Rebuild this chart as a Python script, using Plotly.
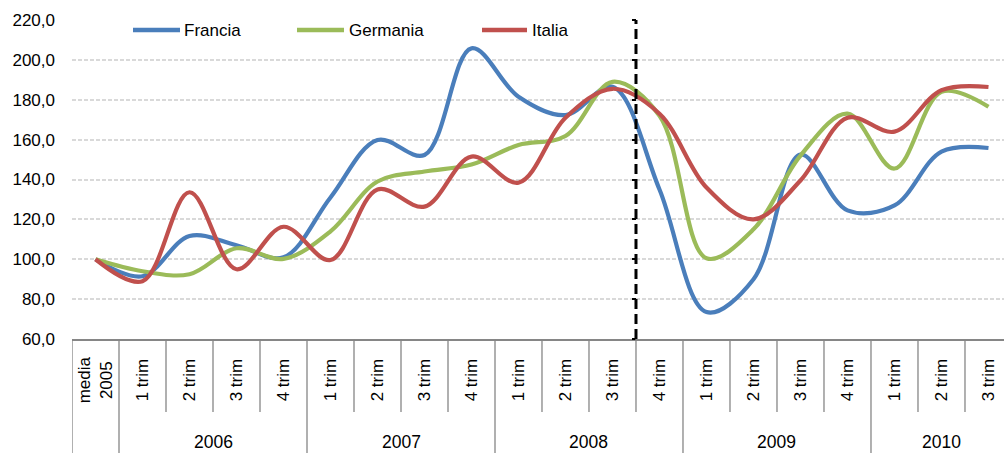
import plotly.graph_objects as go

# ---------------- data ----------------
categories = ["media<br>2005",
              "1 trim", "2 trim", "3 trim", "4 trim",
              "1 trim", "2 trim", "3 trim", "4 trim",
              "1 trim", "2 trim", "3 trim", "4 trim",
              "1 trim", "2 trim", "3 trim", "4 trim",
              "1 trim", "2 trim", "3 trim"]
years = ["2006", "2007", "2008", "2009", "2010"]
year_start = [1, 5, 9, 13, 17]
year_len = [4, 4, 4, 4, 3]

francia = [100.0, 91.5, 111.7, 107.0, 101.0, 131.0, 159.8, 152.3, 205.8, 181.5,
           172.3, 186.5, 135.0, 73.5, 90.0, 152.5, 124.5, 127.0, 154.0, 155.8]
germania = [100.0, 94.0, 92.5, 105.5, 100.2, 114.0, 139.0, 144.0, 147.5, 157.3,
            161.8, 189.0, 172.0, 100.5, 115.0, 152.0, 173.0, 145.5, 184.0, 176.5]
italia = [100.0, 89.0, 133.6, 95.0, 116.3, 99.6, 135.0, 126.4, 151.5, 138.4,
          171.0, 185.5, 173.0, 136.0, 120.0, 139.5, 171.0, 164.0, 184.8, 186.4]

series = [("Francia", francia, "#4A7EBB"),
          ("Germania", germania, "#9BBB59"),
          ("Italia", italia, "#C0504D")]

crisis_boundary = 11.5  # between 3 trim 2008 and 4 trim 2008

# ---------------- figure ----------------
FONT = "Liberation Sans, Arial, sans-serif"
x_idx = list(range(len(categories)))
x_min, x_max = -0.5, 19.33

fig = go.Figure()
for name, vals, col in series:
    fig.add_trace(go.Scatter(
        x=x_idx, y=vals, name=name, mode="lines",
        line=dict(color=col, width=4.2, shape="spline", smoothing=1.0),
        showlegend=False, hoverinfo="x+y+name"))

# invisible trace for the secondary axis (ticks on the dashed line)
fig.add_trace(go.Scatter(x=[0], y=[100], yaxis="y2", mode="markers",
                         marker=dict(opacity=0), showlegend=False, hoverinfo="skip"))

shapes = []
annotations = []

# dashed vertical line
shapes.append(dict(type="line", xref="x", yref="paper", x0=crisis_boundary, x1=crisis_boundary,
                   y0=0, y1=1, line=dict(color="black", width=3, dash="10px,5px"), layer="above"))

# category separators below the axis
sep_col = "#868686"
year_bounds = [-0.5, 0.5] + [s + l - 0.5 for s, l in zip(year_start, year_len)]
for i in range(len(categories) + 1):
    xb = i - 0.5
    full = xb in year_bounds
    shapes.append(dict(type="line", xref="x", yref="paper", x0=xb, x1=xb,
                       y0=0, y1=(-0.42 if full else -0.229),
                       line=dict(color=sep_col, width=1.3)))

# quarter labels (rotated)
for i, lab in enumerate(categories):
    annotations.append(dict(x=i, y=-0.128, xref="x", yref="paper", text=lab,
                            textangle=-90, showarrow=False, xanchor="center", yanchor="middle",
                            font=dict(family=FONT, size=17, color="black")))
# year labels
for yr, s, l in zip(years, year_start, year_len):
    annotations.append(dict(x=s + (l - 1) / 2, y=-0.322, xref="x", yref="paper", text=yr,
                            showarrow=False, xanchor="center", yanchor="middle",
                            font=dict(family=FONT, size=17.5, color="black")))

# manual legend
plot_w = 932.0
def px(v):
    return (v - 72.0) / plot_w
legend_y = (339 - 30) / 319.0
leg_pos = [(133, 180, 182), (297, 344, 347), (482, 527, 530)]
for (name, vals, col), (l0, l1, tx) in zip(series, leg_pos):
    shapes.append(dict(type="line", xref="paper", yref="paper", x0=px(l0), x1=px(l1),
                       y0=legend_y, y1=legend_y, line=dict(color=col, width=4.5)))
    annotations.append(dict(x=px(tx), y=legend_y, xref="paper", yref="paper", text=name,
                            showarrow=False, xanchor="left", yanchor="middle",
                            font=dict(family=FONT, size=17, color="black")))

boundary_pos = (crisis_boundary - x_min) / (x_max - x_min)

fig.update_layout(
    width=1004, height=453,
    margin=dict(l=72, r=0, t=20, b=114),
    paper_bgcolor="white", plot_bgcolor="white",
    separators=", ",
    font=dict(family=FONT, size=17, color="black"),
    shapes=shapes, annotations=annotations,
    showlegend=False,
    xaxis=dict(range=[x_min, x_max], showticklabels=False, ticks="",
               showgrid=False, zeroline=False, showline=True,
               linecolor=sep_col, linewidth=2),
    yaxis=dict(range=[60, 220], dtick=20, tick0=60, tickformat=".1f",
               showgrid=True, gridcolor="#D9D9D9", gridwidth=1.5, griddash="4px,2px",
               zeroline=False, showline=False, ticks="", ticklabelstandoff=16,
               tickfont=dict(family=FONT, size=17, color="black")),
    yaxis2=dict(overlaying="y", anchor="free", position=boundary_pos, side="left",
                range=[60, 220], dtick=20, tick0=60, ticks="outside", ticklen=4,
                tickwidth=2, tickcolor="black", showticklabels=False,
                showgrid=False, zeroline=False, showline=False),
)

fig.write_html("out.html", config={"displayModeBar": False},
               post_script="document.body.style.margin='0';document.body.style.overflow='hidden';")
